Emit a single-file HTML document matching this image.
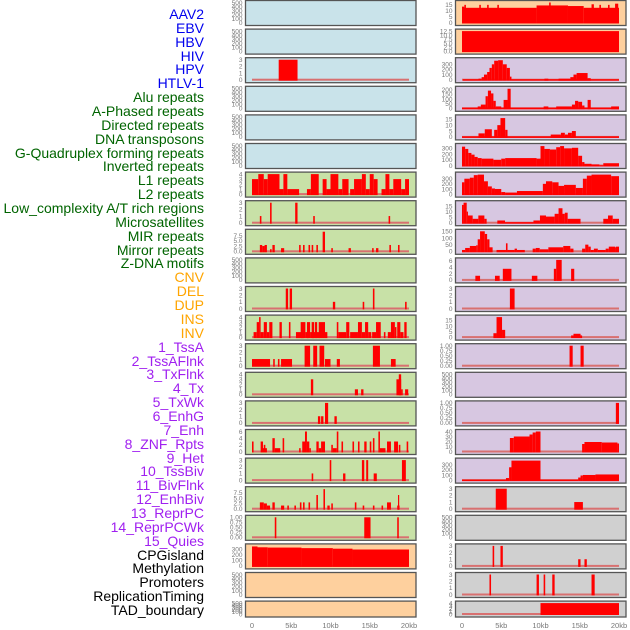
<!DOCTYPE html>
<html><head><meta charset="utf-8"><style>
html,body{margin:0;padding:0;background:#fff;width:630px;height:630px;overflow:hidden}
#labels{position:absolute;left:0;top:0;width:204px;height:630px}
.lab{position:absolute;right:0;font:14px "Liberation Sans",sans-serif;white-space:nowrap;line-height:14px}
svg{position:absolute;left:0;top:0}
</style></head><body>
<div id="labels"></div>
<svg id="chart" width="630" height="630"></svg>
<script>
const trackNames=["AAV2","EBV","HBV","HIV","HPV","HTLV-1","Alu repeats","A-Phased repeats","Directed repeats","DNA transposons","G-Quadruplex forming repeats","Inverted repeats","L1 repeats","L2 repeats","Low_complexity A/T rich regions","Microsatellites","MIR repeats","Mirror repeats","Z-DNA motifs","CNV","DEL","DUP","INS","INV","1_TssA","2_TssAFlnk","3_TxFlnk","4_Tx","5_TxWk","6_EnhG","7_Enh","8_ZNF_Rpts","9_Het","10_TssBiv","11_BivFlnk","12_EnhBiv","13_ReprPC","14_ReprPCWk","15_Quies","CPGisland","Methylation","Promoters","ReplicationTiming","TAD_boundary"];
const trackGroupColors=["#0000ee","#0000ee","#0000ee","#0000ee","#0000ee","#0000ee","#006400","#006400","#006400","#006400","#006400","#006400","#006400","#006400","#006400","#006400","#006400","#006400","#006400","#ffa500","#ffa500","#ffa500","#ffa500","#ffa500","#a020f0","#a020f0","#a020f0","#a020f0","#a020f0","#a020f0","#a020f0","#a020f0","#a020f0","#a020f0","#a020f0","#a020f0","#a020f0","#a020f0","#a020f0","#000","#000","#000","#000","#000"];
const xTickKb=[0,5,10,15,20];
const xTickLabels=["0","5kb","10kb","15kb","20kb"];
const T500=["0","100","200","300","400","500"], V500=[0,100,200,300,400,500];
// left column
const seg_L0=[],seg_L1=[],seg_L3=[],seg_L4=[],seg_L5=[],seg_L9=[],seg_L20=[],seg_L21=[];
const seg_L2=[[3.4,5.8,3]];
const seg_L6=[[0,0.8,3],[0.8,1.5,4],[1.5,2,3],[2,3.5,4],[3.5,4,1],[4,4.5,4],[4.5,6,1],[7,7.5,1],[7.5,8.5,4],[9,9.5,3],[9.5,10,1],[10,11,4],[11,11.5,1],[11.5,12.3,3],[12.5,13,1],[13,14,3],[14,14.5,4],[14.5,15,1],[15,15.5,4],[15.5,16,3],[16.5,17,1],[17,17.5,4],[17.5,18,1],[18,19,3],[19,19.5,1],[19.5,20,3]];
const seg_L7=[[1,1.2,1],[2.3,2.5,3],[5.5,5.8,3],[7.8,8,1],[17.4,17.6,1]];
const seg_L8=[[1,1.3,3],[1.3,1.6,2.5],[1.6,1.9,3],[2.3,2.5,1],[2.6,2.9,3],[3.7,4.1,1.5],[6,6.2,3],[6.5,6.7,3],[7.2,7.4,3],[7.6,7.8,3],[8.2,8.4,3],[9,9.3,9.3],[10.1,10.3,1.5],[12.3,12.6,1.5],[15.3,15.5,1.5],[15.8,16.1,1.5],[17.5,17.7,3],[18.6,18.8,3]];
const seg_L10=[[4.3,4.6,3],[4.8,5.1,3],[10.3,10.6,1],[14.1,14.3,1],[15.4,15.6,3],[19.5,19.7,1]];
const seg_L11=[[0.2,0.6,1],[0.6,0.9,3],[0.9,1.1,4],[1.1,1.5,1],[1.5,1.9,3],[1.9,2.2,1],[2.2,2.6,3],[3.5,3.8,3],[4.7,4.9,3],[5.6,6.6,1],[6.2,6.8,3],[6.8,7.2,1],[7,7.4,3],[7.4,8.1,1],[7.6,7.9,3],[8,8.3,3],[8.2,8.6,1],[8.5,9.3,3],[9.3,9.6,1],[10.8,11,3],[11,12,1],[12,12.4,3],[12.5,13.5,1],[13.5,14,3],[14,14.4,1],[14.4,14.8,3],[14.8,15.2,1],[15.3,15.8,1],[15.8,16.4,3],[16.8,17,1],[17.3,17.7,1],[17.7,18.2,3],[18.2,18.4,2],[18.5,18.9,3],[18.9,19.3,1],[19.4,19.7,3]];
const seg_L12=[[0,2.3,1],[2.7,2.9,1],[3.3,3.5,1],[3.7,5.1,1],[6.7,7.4,3],[7.8,8.3,3],[8.6,9.2,3],[9.3,10,1],[10.8,11.2,1],[15.4,16.3,3],[17.7,18.3,1]];
const seg_L13=[[7.5,7.8,3],[13.1,13.5,1],[13.9,14.2,1],[18.4,19,3],[18.7,19,4],[19,19.2,1],[19.5,19.9,1]];
const seg_L14=[[8.4,8.7,1],[8.8,9.1,1],[9.3,9.7,3],[10.5,10.8,1]];
const seg_L15=[[0,0.2,3],[1.1,1.4,3],[1.4,1.9,1],[1.5,1.7,2],[2.6,2.9,4],[2.9,3.6,1],[3.9,4.1,4],[6,6.2,1],[6.4,6.75,3],[6.75,7,6],[7,7.3,3],[7.3,7.5,1],[8.2,8.5,3],[8.5,8.8,1],[8.8,9.3,3],[10.1,10.3,2],[10.3,10.8,1],[10.8,11,6],[11.4,11.6,3],[12.8,13,3],[13.5,13.7,3],[14.3,14.6,3],[15,15.2,3],[15.4,15.6,4],[16.1,16.3,6],[16.3,17,1],[17.2,17.7,3],[18.1,18.6,3],[18.7,18.9,2],[19.7,19.9,3]];
const seg_L16=[[7.6,7.8,1],[9.9,10.1,3],[11.6,11.9,1],[14,14.3,3],[14.55,14.8,3],[15.5,15.9,1],[19.1,19.6,3]];
const seg_L17=[[1,1.5,3],[1.5,1.9,2.5],[1.9,2.3,1.5],[2.6,2.9,3],[3.7,4.1,1.5],[4.5,4.7,1.5],[5.4,5.6,1.5],[6.1,6.3,3],[6.5,6.7,3],[7.2,7.4,3],[8.2,8.4,6.5],[9.1,9.3,9.3],[9.6,9.9,1.5],[10.1,10.3,2.5],[13.1,13.3,3],[14.1,14.3,1.5],[15.4,15.6,1.5],[16.5,16.7,1.5],[17.2,17.7,3],[18.5,18.8,1.5],[18.6,18.75,6.5]];
const seg_L18=[[2.9,3.1,1],[14.3,15.1,1],[18.5,18.7,1]];
const seg_L19=[[0,0.7,350],[0.7,2,335],[2,6.3,330],[6.3,10.3,320],[10.3,12.8,310],[12.8,20,295]];
// right column
const seg_R13=[],seg_R18=[];
const seg_R0=[[0,9.5,12.5],[0,0.3,13.5],[0.3,0.5,15],[2.2,2.4,15],[3.2,3.4,15],[4.5,4.7,15],[9.5,13.5,14.5],[11.1,11.3,17],[13.5,15.5,14],[15.5,20,12.5],[16.5,16.8,15.5],[17.5,17.7,15],[18.6,18.8,15],[19.5,19.9,16]];
const seg_R1=[[0,20,12.5]];
const seg_R2=[[0.1,2.1,10],[2.1,2.5,20],[2.5,2.8,50],[2.8,3.2,100],[3.2,3.5,150],[3.5,3.8,230],[3.8,4.1,300],[4.1,4.6,370],[4.6,5.2,380],[5.2,5.7,300],[5.7,6.1,230],[6.1,6.3,60],[6.3,20,10],[10.5,11,20],[12.3,13.8,20],[13.8,14.2,50],[14.2,14.6,100],[14.6,16,130],[16,16.4,30]];
const seg_R3=[[0,20,8],[2,2.4,20],[2.4,3,40],[3,3.3,130],[3.3,3.7,190],[3.7,4,160],[4,4.3,80],[4.3,5,20],[5.3,5.8,90],[5.8,6.2,210],[10.4,11,20],[12,14,20],[14,14.4,40],[14.4,14.8,80],[14.8,15.3,70],[15.3,15.6,30],[16,16.4,90],[19,20,20]];
const seg_R4=[[0,20,0.5],[2.1,2.9,3],[2.9,3.8,6.5],[4.1,4.5,6],[4.5,4.9,10],[4.9,5.5,16],[5.5,5.8,6],[11.3,12.6,2],[12.6,13.1,3.5],[13.1,13.5,2],[13.5,14,3.5],[14,14.5,5]];
const seg_R5=[[0,0.4,330],[0.4,0.8,290],[0.8,1.2,220],[1.2,1.6,190],[1.6,2,150],[2,2.5,130],[2.5,4,120],[4,5,100],[5,5.5,120],[5.5,9.5,130],[9.5,10,120],[10,10.5,340],[10.5,11.2,290],[11.2,12,280],[12,12.5,320],[12.5,13,340],[13,14,300],[14,14.8,310],[14.8,15.3,170],[15.3,15.6,60],[15.6,16.5,30],[16.5,17.5,20],[17.5,18,5],[18,20,40]];
const seg_R6=[[0,0.3,230],[0.3,1,300],[1,1.5,320],[1.5,2,370],[2,2.8,380],[2.8,3.3,250],[3.3,3.8,150],[3.8,4.2,110],[4.2,5,100],[5,5.5,40],[5.5,7,30],[7,10.3,60],[10.3,10.7,200],[10.7,11.5,250],[11.5,12.3,230],[12.3,13,160],[13,14.5,180],[14.5,15.4,120],[15.4,15.9,300],[15.9,16.5,360],[16.5,19,380],[19,20,350]];
const seg_R7=[[0,0.2,16],[0.2,0.6,18],[0.6,0.76,10],[0.76,1.36,6.5],[1.36,2.08,3.5],[2.08,2.85,6.5],[2.85,3.14,3.5],[4.5,5.48,2],[5.48,9.1,0.5],[9.1,9.93,2],[9.93,10.7,6.5],[10.7,11.8,5.5],[11.8,12.3,8],[12.3,12.8,13],[12.8,13.1,8],[13.1,13.46,9],[13.46,15.1,3.5],[18,18.6,3.5],[18.6,19.2,6.5],[19.2,20,3.5]];
const seg_R8=[[0,0.4,10],[0.4,1,25],[1,1.8,40],[1.8,2,45],[2,2.3,90],[2.3,2.9,150],[2.9,3.2,130],[3.2,3.5,90],[3.5,3.9,30],[4.4,5.6,10],[5.6,5.8,60],[5.8,6.7,10],[6.7,7,20],[7,8,10],[9,9.4,20],[9.4,9.9,25],[9.9,11,15],[11,12.9,30],[12.9,13.8,40],[13.8,14.2,20],[15.3,15.7,20],[15.7,16.1,50],[16.1,16.4,35],[16.4,16.8,10],[16.8,17.3,20],[17.3,18.3,10],[18.3,18.7,20],[18.7,19.5,35],[19.5,19.6,30],[19.6,20,35]];
const seg_R9=[[1.7,2.3,1.3],[4.2,4.8,1.3],[5.2,6.3,3.5],[8.9,9.6,1.3],[11.7,12,3.5],[12,12.7,6.3],[13.9,14.3,3.5]];
const seg_R10=[[6.1,6.7,3]];
const seg_R11=[[4,4.4,3.5],[4.4,5.1,18],[5.1,5.5,6.5],[13.9,14.2,1.5],[14.2,15.1,3],[15.1,15.3,1.5]];
const seg_R12=[[13.7,14.1,1],[15.1,15.5,1]];
const seg_R14=[[19.6,20,1]];
const seg_R15=[[6.1,6.6,27],[6.6,8.6,30],[8.6,9,34],[9,9.4,38],[9.4,10,40],[15.3,15.6,15],[15.6,17.8,19],[17.8,19.8,18],[19.8,20,16]];
const seg_R16=[[0,5.6,10],[5.6,6,40],[6,6.3,250],[6.3,10,380],[10,14.8,10],[14.8,15.1,50],[15.1,15.4,90],[15.4,17,100],[17,20,110]];
const seg_R17=[[4.3,5.7,3],[14.3,15.4,1]];
const seg_R19=[[3.9,4.1,3],[4.9,5.2,3],[14.8,15.1,1],[15.6,15.9,1]];
const seg_R20=[[3.5,3.7,3],[9.5,9.8,3],[10.4,10.6,3],[11.5,11.8,3],[16.5,16.9,3]];
const seg_R21=[[10,20,4]];

const panelSegs=[seg_L0,seg_L1,seg_L2,seg_L3,seg_L4,seg_L5,seg_L6,seg_L7,seg_L8,seg_L9,seg_L10,seg_L11,seg_L12,seg_L13,seg_L14,seg_L15,seg_L16,seg_L17,seg_L18,seg_L19,seg_L20,seg_L21,
 seg_R0,seg_R1,seg_R2,seg_R3,seg_R4,seg_R5,seg_R6,seg_R7,seg_R8,seg_R9,seg_R10,seg_R11,seg_R12,seg_R13,seg_R14,seg_R15,seg_R16,seg_R17,seg_R18,seg_R19,seg_R20,seg_R21];
const panelMax=[500,500,3,500,500,500,4,3,9.5,500,3,4,3,4,3,6,3,9.5,1,360,500,500,
 17,12.5,390,215,17,350,390,18,150,6.3,3,18,1,500,1,40,390,3,500,3,3,4];
const panelTickVals=[V500,V500,[0,1,2,3],V500,V500,V500,[0,1,2,3,4],[0,1,2,3],[0,2.5,5,7.5],V500,[0,1,2,3],[0,1,2,3,4],[0,1,2,3],[0,1,2,3,4],[0,1,2,3],[0,2,4,6],[0,1,2,3],[0,2.5,5,7.5],[0,0.25,0.5,0.75,1],[0,100,200,300],V500,V500,
 [0,5,10,15],[0,2.5,5,7.5,10,12.5],[0,100,200,300],[0,50,100,150,200],[0,5,10,15],[0,100,200,300],[0,100,200,300],[0,5,10,15],[0,50,100,150],[0,2,4,6],[0,1,2,3],[0,5,10,15],[0,0.25,0.5,0.75,1],V500,[0,0.25,0.5,0.75,1],[0,10,20,30,40],[0,100,200,300],[0,1,2,3],V500,[0,1,2,3],[0,1,2,3],[0,1,2,3,4]];
const panelTickLabels=[T500,T500,["0","1","2","3"],T500,T500,T500,["0","1","2","3","4"],["0","1","2","3"],["0.0","2.5","5.0","7.5"],T500,["0","1","2","3"],["0","1","2","3","4"],["0","1","2","3"],["0","1","2","3","4"],["0","1","2","3"],["0","2","4","6"],["0","1","2","3"],["0.0","2.5","5.0","7.5"],["0.00","0.25","0.50","0.75","1.00"],["0","100","200","300"],T500,T500,
 ["0","5","10","15"],["0.0","2.5","5.0","7.5","10.0","12.5"],["0","100","200","300"],["0","50","100","150","200"],["0","5","10","15"],["0","100","200","300"],["0","100","200","300"],["0","5","10","15"],["0","50","100","150"],["0","2","4","6"],["0","1","2","3"],["0","5","10","15"],["0.00","0.25","0.50","0.75","1.00"],T500,["0.00","0.25","0.50","0.75","1.00"],["0","10","20","30","40"],["0","100","200","300"],["0","1","2","3"],T500,["0","1","2","3"],["0","1","2","3"],["0","1","2","3","4"]];
const BG={b:"#c9e3ea",g:"#c8e1a7",o:"#fed09e",l:"#d7c7e1",y:"#d0d0d0"};
const panelBg="bbbbbbgggggggggggggooo"+"oolllllllllllllllyyyyy";

const NS="http://www.w3.org/2000/svg";
const svg=document.getElementById('chart');
function mk(tag,attrs,parent){const e=document.createElementNS(NS,tag);for(const k in attrs)e.setAttribute(k,attrs[k]);(parent||svg).appendChild(e);return e;}

const labDiv=document.getElementById('labels');
trackNames.forEach((n,i)=>{const d=document.createElement('div');d.className='lab';d.textContent=n;d.style.color=trackGroupColors[i];d.style.top=(15+i*13.86-8)+'px';


labDiv.appendChild(d);});

const colBoxL=[245.5,455.5], colBoxR=[416,626], colX0=[252,462], KB=7.85;
for(let p=0;p<44;p++){
  const col=p<22?0:1, row=p%22;
  const top=0.5+row*28.6, bot=row===21?617:top+25;
  const xs=k=>colX0[col]+k*KB;
  const zero=bot-3, ytop=top+2;
  const ys=v=>zero-(v/panelMax[p])*(zero-ytop);
  const g=mk('g',{});
  
  
  mk('rect',{x:colBoxL[col],y:top,width:colBoxR[col]-colBoxL[col],height:bot-top,fill:BG[panelBg[p]],stroke:'#555','stroke-width':1.3},g);
  if(panelSegs[p].length) mk('rect',{x:xs(0),y:zero-1,width:20*KB,height:2,fill:'#d87070'},g);
  panelSegs[p].forEach(s=>{
    const r=mk('rect',{x:xs(s[0]),y:ys(Math.min(s[2],panelMax[p])),width:Math.max(1,xs(s[1])-xs(s[0])),height:zero-ys(Math.min(s[2],panelMax[p]))+1,fill:'#ff0000'},g);
    
    
  });
  panelTickVals[p].forEach((v,i)=>{
    const t=mk('text',{x:colBoxL[col]-3,y:ys(v)+2.3,'text-anchor':'end','font-size':6.5,fill:'#777','font-family':'Liberation Sans, sans-serif'},g);
    t.textContent=panelTickLabels[p][i];
    
    
  });
}
for(let c=0;c<2;c++){
  xTickKb.forEach((k,i)=>{
    const t=mk('text',{x:colX0[c]+k*KB,y:628,'text-anchor':'middle','font-size':7.5,fill:'#777','font-family':'Liberation Sans, sans-serif'});
    t.textContent=xTickLabels[i];
    
    
  });
}
</script>
</body></html>
